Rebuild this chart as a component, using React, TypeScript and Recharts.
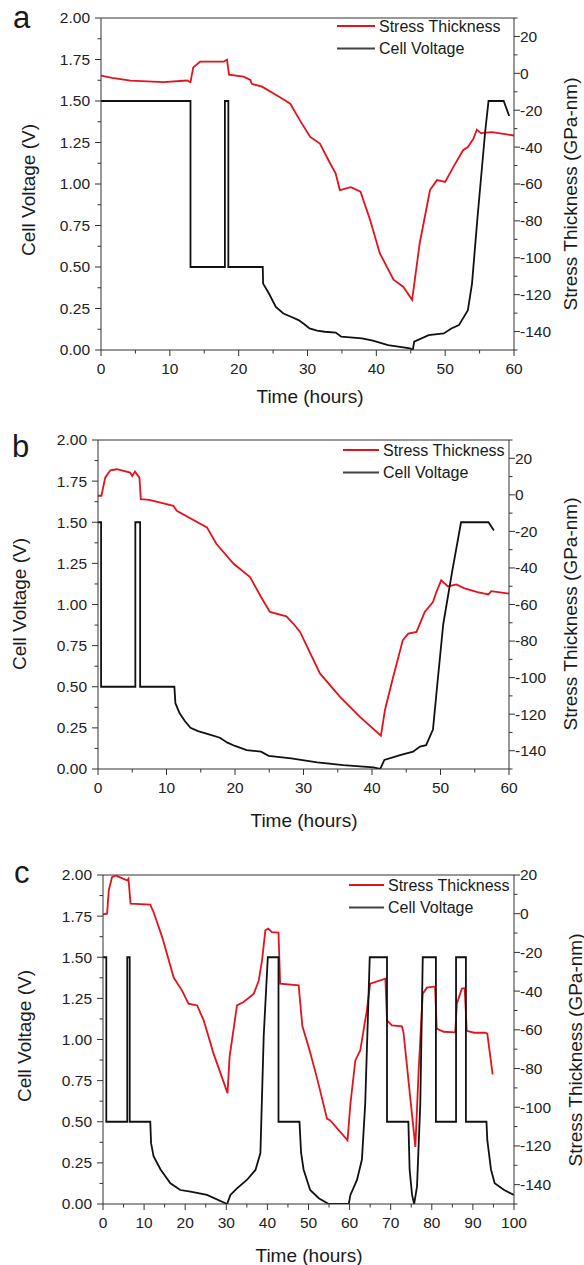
import React from 'react';
import { LineChart, Line, XAxis, YAxis, ReferenceLine } from 'recharts';

const FONT = '"Liberation Sans", Arial, Helvetica, sans-serif';
const RED = '#e3121b';
const BLACK = '#111111';
const AXIS = '#333333';

// panel a
const aVoltT = [0, 13, 13, 18, 18, 18.5, 18.5, 23.5, 23.55, 24.4, 25.4, 26.5, 27.6, 28.7, 29.5, 30.3, 31.4, 32.5, 34.1, 34.9, 37.9, 39.5, 41.7, 44.9, 45.3, 45.5, 47.6, 49.8, 50.9, 52, 53.3, 53.9, 54.7, 55.8, 56.3, 58.5, 59.3];
const aVolt = [1.5, 1.5, 0.5, 0.5, 1.5, 1.5, 0.5, 0.5, 0.4, 0.34, 0.26, 0.22, 0.2, 0.18, 0.157, 0.13, 0.117, 0.11, 0.105, 0.08, 0.07, 0.056, 0.03, 0.01, 0, 0.05, 0.09, 0.1, 0.13, 0.15, 0.24, 0.4, 0.8, 1.31, 1.5, 1.5, 1.41];
const aStressT = [0, 1.6, 4.3, 9.1, 12.5, 13, 13.4, 14.4, 17.8, 18.3, 18.6, 20.7, 21.7, 21.9, 23.4, 26, 27.5, 28.9, 30.4, 31.8, 33.3, 34.1, 34.7, 36.3, 37.7, 39.1, 40.5, 42.5, 43.9, 45.2, 46.3, 47.8, 48.8, 50, 51.2, 52.6, 53.3, 54.1, 54.6, 55.2, 56.8, 60];
const aStress = [-1.2, -2.5, -3.9, -4.8, -3.9, -4.8, 3.2, 6.3, 6.3, 7.4, -0.7, -1.8, -3.6, -5.7, -7.2, -13, -16.5, -25.5, -34.5, -38.1, -48.9, -54.4, -63.3, -61.7, -64.2, -79.5, -97.5, -111.9, -115.7, -122.8, -92.1, -63.3, -57.9, -58.9, -50.7, -41.7, -40, -35.5, -30.6, -32.4, -31.9, -33.7];

// panel b
const bVoltT = [0, 0.45, 0.45, 5.45, 5.45, 6.15, 6.15, 11.15, 11.3, 11.9, 12.7, 13.5, 14.6, 16.2, 17.8, 18.9, 20.0, 21.7, 23.8, 24.9, 28.2, 32, 35.8, 40.2, 41.2, 41.8, 44.1, 46, 47, 47.9, 48.9, 49.5, 50.4, 51.7, 53, 57, 57.8];
const bVolt = [1.5, 1.5, 0.5, 0.5, 1.5, 1.5, 0.5, 0.5, 0.4, 0.34, 0.29, 0.25, 0.23, 0.21, 0.19, 0.16, 0.14, 0.115, 0.105, 0.08, 0.065, 0.04, 0.024, 0.01, 0, 0.055, 0.085, 0.105, 0.136, 0.145, 0.24, 0.5, 0.88, 1.2, 1.5, 1.5, 1.45];
const bStressT = [0, 0.5, 1.05, 1.8, 2.75, 4.7, 5.0, 5.4, 6.05, 6.25, 7.5, 11, 11.5, 15.9, 17.3, 19.8, 22.2, 23.8, 25.1, 27.5, 28.5, 29.5, 32.4, 35.3, 38.2, 41.3, 41.9, 43.1, 44.5, 45.3, 46.5, 47.7, 48.9, 49.4, 50.1, 51.1, 52.3, 53.5, 55.4, 57, 57.4, 60];
const bStress = [-0.5, -0.5, 9.4, 13.4, 14, 12.2, 10.3, 12.7, 9.4, -2.4, -2.7, -6, -8.7, -17.8, -26.9, -37.7, -45, -55.9, -64.1, -66.5, -70.4, -75, -97.7, -110.4, -121.3, -131.8, -117.6, -99.5, -79.5, -75.9, -75, -64.1, -58.7, -53.2, -46.8, -50.1, -49, -51.2, -53.2, -54.5, -52.7, -54.1];

// panel c
const cVoltT = [0, 0.8, 0.8, 5.9, 5.9, 6.5, 6.5, 11.5, 11.7, 12.3, 14.0, 16.4, 18.8, 21.3, 25.3, 30.2, 31.0, 32.6, 35.0, 37.1, 38.3, 39.1, 40.1, 42.7, 42.7, 47.8, 48.2, 48.8, 50.4, 52.5, 54.9, 59.8, 60.2, 61.8, 63.0, 63.8, 64.9, 69.1, 69.1, 74.3, 74.6, 75.2, 75.7, 76.4, 77.2, 77.8, 81.0, 81.0, 85.9, 85.9, 88.3, 88.3, 93.3, 93.5, 94.4, 95.3, 97.6, 100];
const cVolt = [1.5, 1.5, 0.5, 0.5, 1.5, 1.5, 0.5, 0.5, 0.37, 0.29, 0.21, 0.126, 0.085, 0.075, 0.055, 0, 0.055, 0.095, 0.146, 0.207, 0.31, 1.02, 1.5, 1.5, 0.5, 0.5, 0.31, 0.21, 0.085, 0.035, 0, 0, 0.055, 0.146, 0.27, 0.61, 1.5, 1.5, 0.5, 0.5, 0.21, 0.055, 0, 0.105, 0.61, 1.5, 1.5, 0.5, 0.5, 1.5, 1.5, 0.5, 0.5, 0.39, 0.21, 0.126, 0.085, 0.055];
const cStressT = [0, 1.0, 1.4, 2.2, 3.0, 5.9, 6.2, 6.7, 11.5, 12.3, 14.4, 17.2, 19.2, 20.8, 22.9, 24.5, 26.9, 30.3, 30.8, 32.6, 34.2, 36.7, 37.9, 38.7, 39.5, 40.2, 41.1, 42.7, 43.1, 47.6, 48.5, 50.2, 52.2, 54.5, 55.3, 59.5, 60.2, 61.4, 62.6, 64.2, 65.0, 68.7, 69.1, 70.3, 72.7, 73.1, 76.0, 76.8, 77.8, 78.8, 80.8, 81.2, 82.9, 85.7, 86.1, 87.3, 88.0, 88.5, 90.3, 93.0, 93.5, 94.8];
const cStress = [-0.4, 0, 12, 18.9, 19.8, 17.2, 18.1, 5.2, 4.7, 0.9, -12.1, -33, -39.6, -46.5, -47.4, -55.1, -72.3, -92.7, -74, -47.4, -45.6, -41.3, -34.5, -24.1, -8.6, -7.7, -9.5, -9.8, -36.2, -37, -58, -70, -86, -105.9, -106.8, -117.1, -98.1, -75.8, -70.6, -49.9, -36.2, -33.6, -55.1, -57.7, -58.2, -61.1, -120.5, -80.9, -41.3, -38.2, -37.6, -59.4, -61, -61.3, -46.5, -38.7, -38.5, -60.5, -61.5, -61.5, -62, -83];

// ticks
const voltMajor = [0, 0.25, 0.5, 0.75, 1, 1.25, 1.5, 1.75, 2];
const voltMinor = [0.125, 0.375, 0.625, 0.875, 1.125, 1.375, 1.625, 1.875];
const stressMajor = [-140, -120, -100, -80, -60, -40, -20, 0, 20];
const stressMinorAB = [-150, -130, -110, -90, -70, -50, -30, -10, 10, 30];
const stressMinorC = [-150, -130, -110, -90, -70, -50, -30, -10, 10];
const time60Major = [0, 10, 20, 30, 40, 50, 60];
const time60Minor = [5, 15, 25, 35, 45, 55];
const time100Major = [0, 10, 20, 30, 40, 50, 60, 70, 80, 90, 100];
const time100Minor = [5, 15, 25, 35, 45, 55, 65, 75, 85, 95];

const rows = (t: number[], y: number[]) => t.map((x, i) => ({ t: x, y: y[i] }));
const sortNum = (a: number[]) => [...a].sort((p, q) => p - q);

type Side = 'left' | 'right' | 'bottom';

const makeTick = (side: Side, major: number[], fmt: (v: number) => string) => (p: any) => {
  const v = Number(p.payload.value);
  const isMajor = major.some((m) => Math.abs(m - v) < 1e-6);
  const len = isMajor ? 6 : 3.5;
  const { x, y } = p;
  const txt = { fontFamily: FONT, fontSize: 15.5, fill: '#222' };
  if (side === 'left') {
    return (
      <g>
        <line x1={x} x2={x - len} y1={y} y2={y} stroke={AXIS} strokeWidth={1} />
        {isMajor && (
          <text x={x - 11} y={y} dy={5.4} textAnchor="end" {...txt}>
            {fmt(v)}
          </text>
        )}
      </g>
    );
  }
  if (side === 'right') {
    return (
      <g>
        <line x1={x} x2={x + len} y1={y} y2={y} stroke={AXIS} strokeWidth={1} />
        {isMajor && (
          <text x={x + 6} y={y} dy={5.4} textAnchor="start" {...txt}>
            {fmt(v)}
          </text>
        )}
      </g>
    );
  }
  return (
    <g>
      <line x1={x} x2={x} y1={y} y2={y + len} stroke={AXIS} strokeWidth={1} />
      {isMajor && (
        <text x={x} y={y + 24} textAnchor="middle" {...txt}>
          {fmt(v)}
        </text>
      )}
    </g>
  );
};

interface PanelProps {
  letter: string;
  height: number;
  top: number;
  bottom: number;
  leftW: number;
  rightW: number;
  xMax: number;
  timeMajor: number[];
  timeMinor: number[];
  stressTop: number;
  stressMinor: number[];
  volt: { t: number; y: number }[];
  stress: { t: number; y: number }[];
  letterPos: [number, number];
  leftTitle: [number, number];
  rightTitle: [number, number];
  xTitle: [number, number];
  legend: [number, number, number, number]; // line x1, line x2, text x, first row y
}

function Panel(p: PanelProps) {
  const txt = { fontFamily: FONT, fill: '#1a1a1a' };
  return (
    <div style={{ position: 'relative', width: 584, height: p.height }}>
      <LineChart
        width={584}
        height={p.height}
        margin={{ top: p.top, right: 0, bottom: p.bottom, left: 0 }}
      >
        <XAxis
          dataKey="t"
          type="number"
          domain={[0, p.xMax]}
          ticks={sortNum([...p.timeMajor, ...p.timeMinor])}
          interval={0}
          height={30}
          tickSize={0}
          tickMargin={0}
          tickLine={false}
          axisLine={{ stroke: AXIS }}
          tick={makeTick('bottom', p.timeMajor, (v) => String(v))}
          allowDataOverflow
        />
        <YAxis
          yAxisId="v"
          type="number"
          domain={[0, 2]}
          ticks={sortNum([...voltMajor, ...voltMinor])}
          interval={0}
          width={p.leftW}
          tickSize={0}
          tickMargin={0}
          tickLine={false}
          axisLine={{ stroke: AXIS }}
          tick={makeTick('left', voltMajor, (v) => v.toFixed(2))}
          allowDataOverflow
        />
        <YAxis
          yAxisId="s"
          orientation="right"
          type="number"
          domain={[-150, p.stressTop]}
          ticks={sortNum([...stressMajor, ...p.stressMinor])}
          interval={0}
          width={p.rightW}
          tickSize={0}
          tickMargin={0}
          tickLine={false}
          axisLine={{ stroke: AXIS }}
          tick={makeTick('right', stressMajor, (v) => String(v))}
          allowDataOverflow
        />
        <ReferenceLine yAxisId="v" y={2} stroke={AXIS} strokeWidth={1} />
        <Line
          yAxisId="s"
          data={p.stress}
          dataKey="y"
          name="Stress Thickness"
          type="linear"
          stroke={RED}
          strokeWidth={1.8}
          dot={false}
          isAnimationActive={false}
        />
        <Line
          yAxisId="v"
          data={p.volt}
          dataKey="y"
          name="Cell Voltage"
          type="linear"
          stroke={BLACK}
          strokeWidth={1.8}
          dot={false}
          isAnimationActive={false}
        />
      </LineChart>
      <svg
        width={584}
        height={p.height}
        style={{ position: 'absolute', left: 0, top: 0, pointerEvents: 'none' }}
      >
        <text x={p.letterPos[0]} y={p.letterPos[1]} fontSize={31} {...txt}>
          {p.letter}
        </text>
        <text
          x={p.leftTitle[0]}
          y={p.leftTitle[1]}
          fontSize={19}
          textAnchor="middle"
          dominantBaseline="central"
          transform={`rotate(-90 ${p.leftTitle[0]} ${p.leftTitle[1]})`}
          {...txt}
        >
          Cell Voltage (V)
        </text>
        <text
          x={p.rightTitle[0]}
          y={p.rightTitle[1]}
          fontSize={19}
          textAnchor="middle"
          dominantBaseline="central"
          transform={`rotate(-90 ${p.rightTitle[0]} ${p.rightTitle[1]})`}
          {...txt}
        >
          Stress Thickness (GPa-nm)
        </text>
        <text x={p.xTitle[0]} y={p.xTitle[1]} fontSize={19} textAnchor="middle" {...txt}>
          Time (hours)
        </text>
        {[
          { name: 'Stress Thickness', color: RED },
          { name: 'Cell Voltage', color: '#444' },
        ].map((item, i) => {
          const y = p.legend[3] + i * 22.5;
          return (
            <g key={item.name}>
              <line x1={p.legend[0]} x2={p.legend[1]} y1={y} y2={y} stroke={item.color} strokeWidth={1.8} />
              <text x={p.legend[2]} y={y} dy={5.8} fontSize={16} {...txt}>
                {item.name}
              </text>
            </g>
          );
        })}
      </svg>
    </div>
  );
}

export default function App() {
  return (
    <div style={{ position: 'absolute', left: 0, top: 0, width: 584, height: 1265, background: '#fff' }}>
      <Panel
        letter="a"
        height={420}
        top={18}
        bottom={40}
        leftW={101}
        rightW={70}
        xMax={60}
        timeMajor={time60Major}
        timeMinor={time60Minor}
        stressTop={30}
        stressMinor={stressMinorAB}
        volt={rows(aVoltT, aVolt)}
        stress={rows(aStressT, aStress)}
        letterPos={[13, 28]}
        leftTitle={[28, 190]}
        rightTitle={[570, 194]}
        xTitle={[310, 403]}
        legend={[337, 375, 379, 26]}
      />
      <Panel
        letter="b"
        height={420}
        top={20}
        bottom={41}
        leftW={98}
        rightW={75}
        xMax={60}
        timeMajor={time60Major}
        timeMinor={time60Minor}
        stressTop={30}
        stressMinor={stressMinorAB}
        volt={rows(bVoltT, bVolt)}
        stress={rows(bStressT, bStress)}
        letterPos={[12, 37]}
        leftTitle={[19, 184]}
        rightTitle={[570, 194]}
        xTitle={[304, 407]}
        legend={[343, 379, 383, 30]}
      />
      <Panel
        letter="c"
        height={425}
        top={35}
        bottom={31}
        leftW={103}
        rightW={70}
        xMax={100}
        timeMajor={time100Major}
        timeMinor={time100Minor}
        stressTop={20}
        stressMinor={stressMinorC}
        volt={rows(cVoltT, cVolt)}
        stress={rows(cStressT, cStress)}
        letterPos={[14, 43]}
        leftTitle={[24, 196]}
        rightTitle={[575, 210]}
        xTitle={[309, 422]}
        legend={[349, 384, 388, 45]}
      />
    </div>
  );
}
